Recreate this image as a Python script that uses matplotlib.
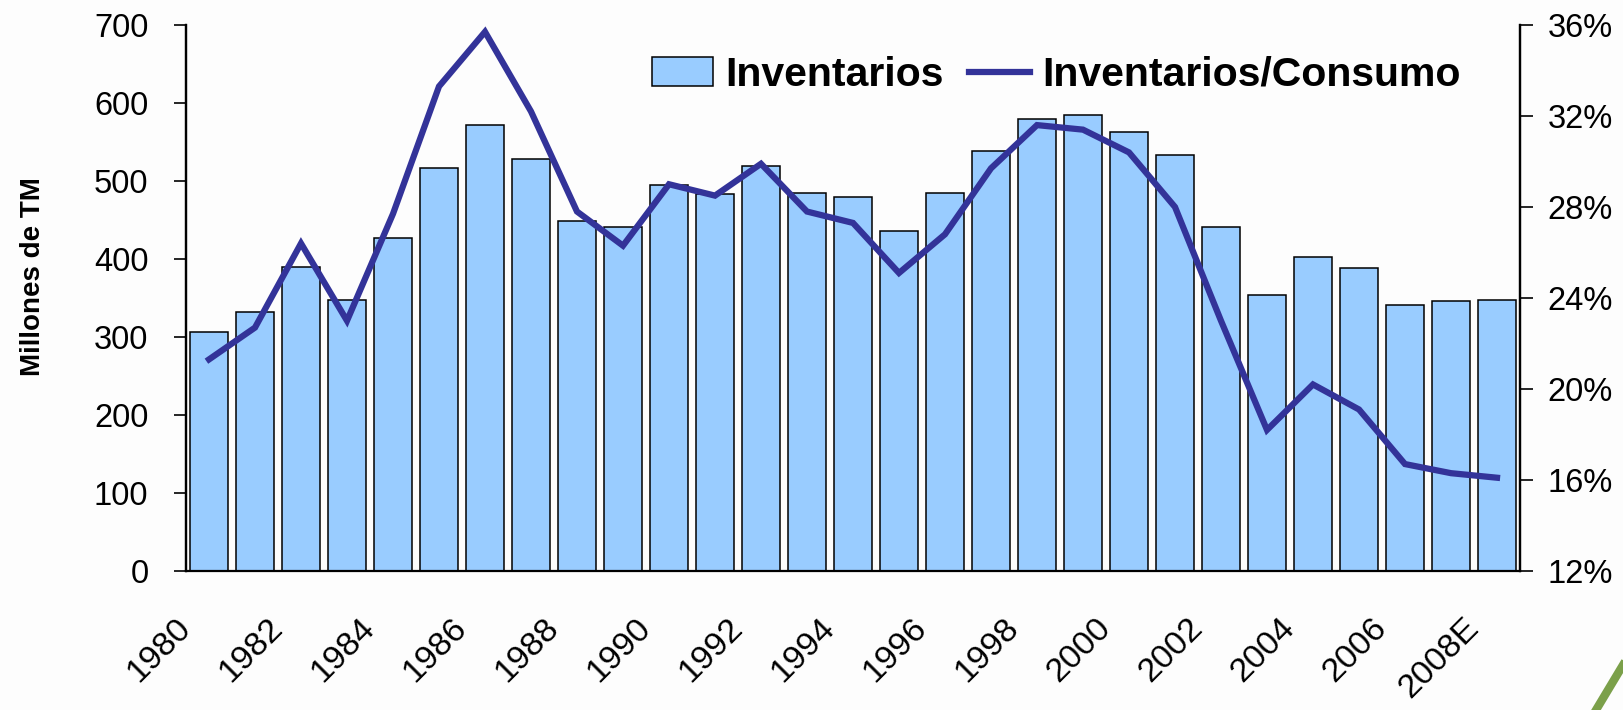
import numpy as np
import matplotlib
matplotlib.use("Agg")
import matplotlib.pyplot as plt
import matplotlib.transforms as mtransforms
from matplotlib.lines import Line2D

plt.rcParams['font.family'] = ['Liberation Sans', 'DejaVu Sans']

# Data
years = ["1980", "1981", "1982", "1983", "1984", "1985", "1986", "1987", "1988", "1989",
         "1990", "1991", "1992", "1993", "1994", "1995", "1996", "1997", "1998", "1999",
         "2000", "2001", "2002", "2003", "2004", "2005", "2006", "2007", "2008E"]
inventarios = [307, 332, 390, 348, 427, 517, 572, 528, 449, 441,
               495, 483, 519, 484, 479, 436, 484, 539, 580, 585,
               563, 533, 441, 354, 403, 389, 341, 346, 348]
ratio = [21.3, 22.7, 26.4, 23.0, 27.7, 33.3, 35.7, 32.2, 27.8, 26.3,
         29.0, 28.5, 29.9, 27.8, 27.3, 25.1, 26.8, 29.7, 31.6, 31.4,
         30.4, 28.0, 23.0, 18.2, 20.2, 19.1, 16.7, 16.3, 16.1]

bar_color = "#99CCFF"
line_color = "#333399"
bg = "#FDFDFD"

fig = plt.figure(figsize=(16.23, 7.10), dpi=100, facecolor=bg)
ax = fig.add_axes([186 / 1623, 1 - 571 / 710, (1520 - 186) / 1623, (571 - 25) / 710])
ax.set_facecolor(bg)

x = np.arange(len(years))
bars = ax.bar(x, inventarios, width=0.82, color=bar_color, edgecolor="black",
              linewidth=1.1, label="Inventarios", zorder=2)
ax.set_xlim(-0.5, len(years) - 0.5)
ax.set_ylim(0, 700)
ax.set_yticks(range(0, 701, 100))
ax.tick_params(axis="y", labelsize=23.5, length=9, width=1.2, pad=18)
ax.set_ylabel("Millones de TM", fontsize=20, fontweight="bold")
ax.yaxis.set_label_coords(-0.105, 0.54)

ax2 = ax.twinx()
ln, = ax2.plot(x, ratio, color=line_color, linewidth=4.5, label="Inventarios/Consumo",
               solid_joinstyle="miter", zorder=3)
ax2.set_ylim(12, 36)
ax2.set_yticks(range(12, 37, 4))
ax2.set_yticklabels([f"{v}%" for v in range(12, 37, 4)])
ax2.tick_params(axis="y", labelsize=23.5, length=9, width=1.2, pad=11)

# x labels every two years, rotated
ax.set_xticks(x[::2])
ax.set_xticklabels(years[::2], rotation=45, ha="right", va="top",
                   rotation_mode="anchor", fontsize=24.5)
ax.tick_params(axis="x", length=0, pad=29.5)
offset = mtransforms.ScaledTranslation(-24.5 / 72, 0, fig.dpi_scale_trans)
for lab in ax.get_xticklabels():
    lab.set_transform(lab.get_transform() + offset)

for a in (ax, ax2):
    a.spines["top"].set_visible(False)
    for s in ("left", "right", "bottom"):
        a.spines[s].set_linewidth(1.6)
ax2.spines["bottom"].set_visible(False)

leg = fig.legend([bars, ln], ["Inventarios", "Inventarios/Consumo"],
                 loc="center left", bbox_to_anchor=(652 / 1623, 1 - 75 / 710),
                 ncol=2, frameon=False, handlelength=1.5, handletextpad=0.3,
                 columnspacing=0.6, borderpad=0, borderaxespad=0,
                 prop={"size": 29.5, "weight": "bold"})

# slide decoration at the bottom right
fig.add_artist(Line2D([1596 / 1623, 1623 / 1623], [0, 45 / 710],
                      transform=fig.transFigure, color="#7BA04A", linewidth=6))

fig.savefig("out.png", dpi=100, facecolor=bg)
